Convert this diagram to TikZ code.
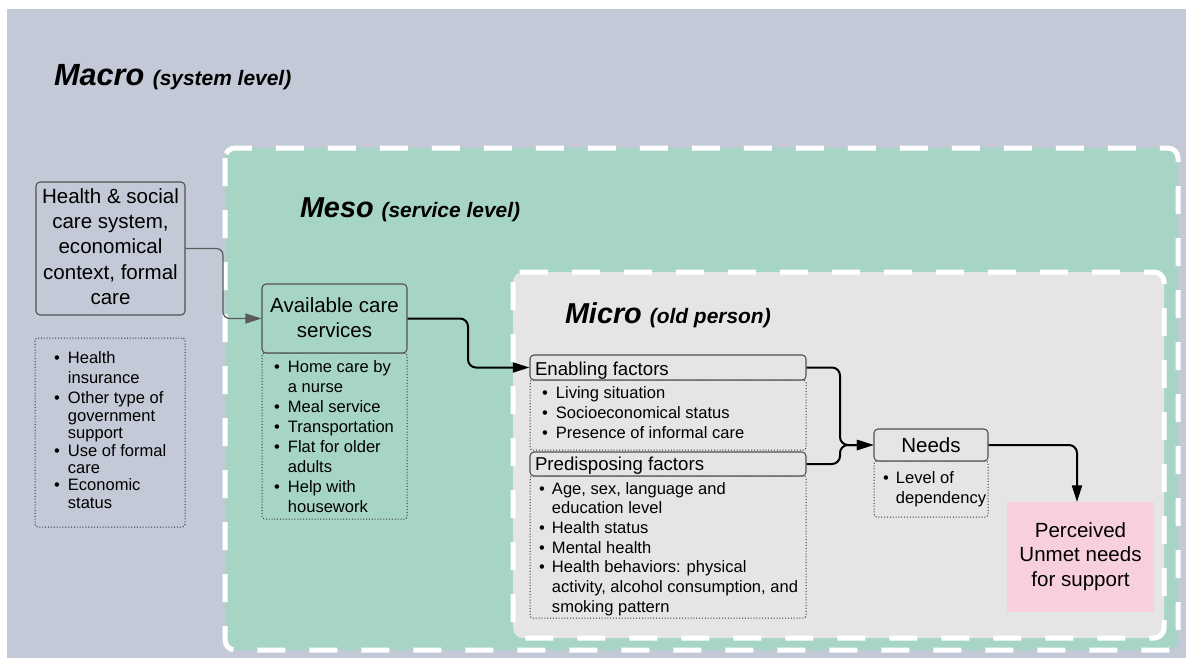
\documentclass[tikz,border=0pt]{standalone}
\usepackage{fontspec}
\setmainfont{Liberation Sans}
\usetikzlibrary{arrows.meta,fit}
\definecolor{macrobg}{HTML}{C3C9D7}
\definecolor{mesobg}{HTML}{A7D5C5}
\definecolor{microbg}{HTML}{E5E5E5}
\definecolor{pinkbg}{HTML}{F8D0DC}
\definecolor{edgegray}{HTML}{505050}
\definecolor{arrgray}{HTML}{5A5A5A}
\newcommand{\bul}{\textbullet}
\begin{document}
\begin{tikzpicture}[x=0.75pt,y=-0.75pt,
  levelbox/.style={draw=white, line width=3.75pt, dash pattern=on 21pt off 18pt, rounded corners=7.5pt},
  solidbox/.style={draw=edgegray, line width=0.8pt, rounded corners=3pt, inner sep=0pt},
  listbox/.style={draw=black!80, line width=0.75pt, dash pattern=on 0.75pt off 1.4pt, rounded corners=2pt, inner sep=0pt},
  plainbox/.style={inner sep=0pt},
  txt/.style={inner sep=0pt, outer sep=0pt, text=black},
  conn/.style={draw=black, line width=1.5pt, rounded corners=6pt, -{Triangle[length=12.5pt,width=7.5pt]}},
  grayconn/.style={draw=arrgray, line width=0.9pt, rounded corners=5pt, -{Triangle[length=12pt,width=7.5pt]}},
  boxfont/.style={font=\fontsize{15.4}{19}\selectfont},
  headfont/.style={font=\fontsize{14}{17}\selectfont},
]
\useasboundingbox (0,0) rectangle (1186,658);
\fill[white] (0,0) rectangle (1186,658);
% levels
\fill[macrobg] (7,9) rectangle (1186,658);
\draw[levelbox, fill=mesobg] (225,148) rectangle (1178,650);
\draw[levelbox, fill=microbg] (513,272) rectangle (1164,638);

% titles
\node[txt, anchor=base west] (macrot) at (54,85) {\fontsize{23}{27}\selectfont\bfseries\itshape Macro {\fontsize{15.7}{19}\selectfont(system level)}};
\node[txt, anchor=base west] (mesot) at (300,217) {\fontsize{21.6}{26}\selectfont\bfseries\itshape Meso {\fontsize{15.7}{19}\selectfont(service level)}};
\node[txt, anchor=base west] (microt) at (565,323) {\fontsize{21.6}{26}\selectfont\bfseries\itshape Micro {\fontsize{15.7}{19}\selectfont(old person)}};

% dotted list boxes
\node[listbox, fit={(35,338) (185,527)}] (hlist) {};
\node[listbox, fit={(262,353) (407,519)}] (alist) {};
\node[listbox, fit={(530,380) (806,450)}] (elist) {};
\node[listbox, fit={(530,476) (806,618)}] (plist) {};
\node[listbox, fit={(874,461) (988,517)}] (nlist) {};

% solid boxes
\node[solidbox, fill=macrobg, fit={(36,182) (185,315)}] (health) {};
\node[solidbox, fill=mesobg, fit={(262,284) (407,353)}] (avail) {};
\node[solidbox, fill=microbg, fit={(530,355) (806,380)}] (enab) {};
\node[solidbox, fill=microbg, fit={(530,452) (806,476)}] (pred) {};
\node[solidbox, fill=microbg, fit={(874,429) (988,461)}] (needs) {};
\node[plainbox, fill=pinkbg, fit={(1007,502) (1154,612)}] (pink) {};

% box texts
\node[txt, anchor=base] (healtht) at (110.5,203) {\fontsize{15.4}{19}\selectfont\begin{tabular}[t]{@{}c@{}}Health \& social\\ care system,\\ economical\\ context, formal\\ care\end{tabular}};
\node[txt, anchor=base] (availt) at (334.5,312) {\fontsize{15.4}{18.75}\selectfont\begin{tabular}[t]{@{}c@{}}Available care\\ services\end{tabular}};
\node[txt, anchor=base] (pinkt) at (1080.5,537) {\fontsize{15.4}{18.4}\selectfont\begin{tabular}[t]{@{}c@{}}Perceived\\ Unmet needs\\ for support\end{tabular}};
\node[txt, anchor=base west] (enabt) at (535,375) {\fontsize{14}{17}\selectfont Enabling factors};
\node[txt, anchor=base west] (predt) at (535,470) {\fontsize{14}{17}\selectfont Predisposing factors};
\node[txt, anchor=base] (needst) at (931,452) {\fontsize{15.4}{19}\selectfont Needs};

% list texts
\node[txt, anchor=base west] (hlistt) at (54,363) {\fontsize{12.4}{13.05}\selectfont\begin{tabular}[t]{@{}l@{\hspace{6.1pt}}l@{}}
\bul & Health\\[2.3pt]
 & insurance\\[2.3pt]
\bul & Other type of\\
 & government\\
 & support\\
\bul & Use of formal\\
 & care\\
\bul & Economic\\
 & status
\end{tabular}};
\node[txt, anchor=base west] (alistt) at (274,372) {\fontsize{12.4}{15.1}\selectfont\begin{tabular}[t]{@{}l@{\hspace{6.1pt}}l@{}}
\bul & Home care by\\
 & a nurse\\
\bul & Meal service\\
\bul & Transportation\\
\bul & Flat for older\\
 & adults\\
\bul & Help with\\
 & housework
\end{tabular}};
\node[txt, anchor=base west] (elistt) at (542,398) {\fontsize{12.4}{15}\selectfont\begin{tabular}[t]{@{}l@{\hspace{6.1pt}}l@{}}
\bul & Living situation\\
\bul & Socioeconomical status\\
\bul & Presence of informal care
\end{tabular}};
\node[txt, anchor=base west] (plistt) at (539,494) {\fontsize{12.4}{14.8}\selectfont\begin{tabular}[t]{@{}l@{\hspace{5.4pt}}l@{}}
\bul & Age, sex, language and\\
 & education level\\
\bul & Health status\\
\bul & Mental health\\
\bul & Health behaviors: physical\\
 & activity, alcohol consumption, and\\
 & smoking pattern
\end{tabular}};
\node[txt, anchor=base west] (nlistt) at (883,483) {\fontsize{12.4}{15}\selectfont\begin{tabular}[t]{@{}l@{\hspace{5.4pt}}l@{}}
\bul & Level of\\
 & dependency
\end{tabular}};

% connectors
\coordinate (h1) at (223,0);
\coordinate (a1) at (468,0);
\coordinate (m) at (840,445);
\coordinate (p) at (1077,502);
\draw[grayconn] (health.east) -- (health.east -| h1) |- (avail.west);
\draw[conn] (avail.east) -- (avail.east -| a1) |- (enab.west);
\draw[conn] (enab.east) -| (m) -- (needs.west);
\draw[conn] (pred.east) -| (m) -- (needs.west);
\draw[conn] (needs.east) -| (p);
\end{tikzpicture}
\end{document}
